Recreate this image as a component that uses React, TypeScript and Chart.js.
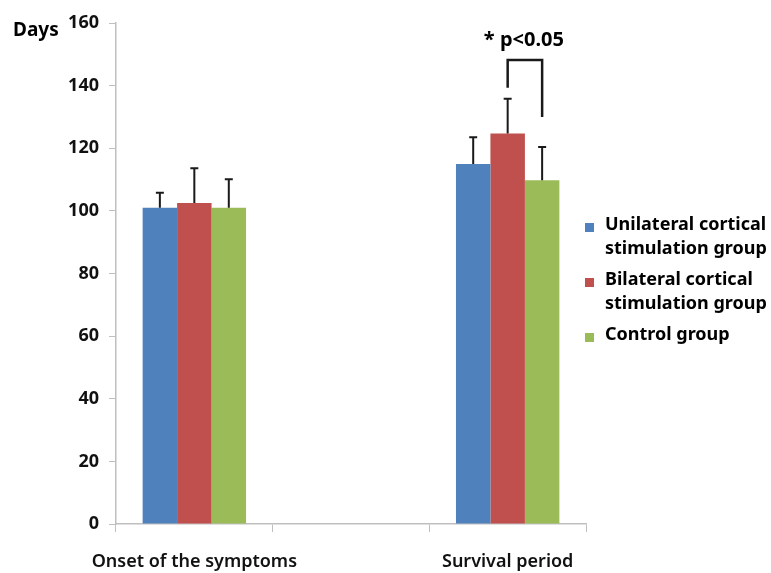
import React, { useEffect, useRef } from "react";
import { Chart, registerables } from "chart.js";

Chart.register(...registerables);

const categories = ["Onset of the symptoms", "", "Survival period"];
const seriesNames = [
  ["Unilateral cortical", "stimulation group"],
  ["Bilateral cortical", "stimulation group"],
  ["Control group"],
];
const unilateral = [101, null, 115];
const bilateral = [102.5, null, 124.7];
const control = [101, null, 109.8];
const unilateralErr = [4.8, 0, 8.5];
const bilateralErr = [11.1, 0, 11.1];
const controlErr = [9.1, 0, 10.6];
const colors = ["#4F81BD", "#C0504D", "#9BBB59"];
const yTicks = [0, 20, 40, 60, 80, 100, 120, 140, 160];
const yTitle = "Days";
const sigText = "* p<0.05";
const bracketTop = 148.2;
const bracketLeftEnd = 139.3;
const bracketRightEnd = 130;
const sigTextValue = 154.5;

const FONT = "'Noto Sans', 'DejaVu Sans', sans-serif";

export default function App() {
  const ref = useRef<HTMLCanvasElement>(null);
  useEffect(() => {
    const canvas = ref.current;
    if (!canvas) return;
    const errs = [unilateralErr, bilateralErr, controlErr];

    const extras = {
      id: "extras",
      afterDatasetsDraw(chart: any) {
        const ctx = chart.ctx;
        const y = chart.scales.y;
        ctx.save();
        // error bars (upper only)
        chart.data.datasets.forEach((ds: any, di: number) => {
          const meta = chart.getDatasetMeta(di);
          meta.data.forEach((bar: any, i: number) => {
            const v = ds.data[i];
            if (v === null || v === undefined) return;
            const e = errs[di][i];
            const top = y.getPixelForValue(v + e);
            const base = y.getPixelForValue(v);
            ctx.strokeStyle = "#1a1a1a";
            ctx.lineWidth = 2;
            ctx.beginPath();
            ctx.moveTo(bar.x, base);
            ctx.lineTo(bar.x, top);
            ctx.moveTo(bar.x - 4, top);
            ctx.lineTo(bar.x + 4, top);
            ctx.stroke();
          });
        });
        // significance bracket between bilateral and control in survival
        const idx = 2;
        const xr = chart.getDatasetMeta(1).data[idx].x;
        const xg = chart.getDatasetMeta(2).data[idx].x;
        const yt = y.getPixelForValue(bracketTop);
        ctx.strokeStyle = "#1a1a1a";
        ctx.lineWidth = 2.5;
        ctx.beginPath();
        ctx.moveTo(xr, y.getPixelForValue(bracketLeftEnd));
        ctx.lineTo(xr, yt);
        ctx.lineTo(xg, yt);
        ctx.lineTo(xg, y.getPixelForValue(bracketRightEnd));
        ctx.stroke();
        ctx.fillStyle = "#000";
        ctx.font = "bold 20px " + FONT;
        ctx.textAlign = "center";
        ctx.textBaseline = "middle";
        ctx.fillText(sigText, (xr + xg) / 2 - 1, y.getPixelForValue(sigTextValue));
        // y title
        ctx.font = "bold 19px " + FONT;
        ctx.textAlign = "left";
        ctx.fillText(yTitle, 13, y.getPixelForValue(160) + 8);
        // legend
        ctx.font = "bold 18px " + FONT;
        const lx = chart.chartArea.right;
        let cy = 225;
        seriesNames.forEach((lines, i) => {
          ctx.fillStyle = colors[i];
          ctx.fillRect(lx - 1, cy - 2, 9, 9);
          ctx.fillStyle = "#000";
          ctx.textAlign = "left";
          lines.forEach((t, j) => {
            ctx.fillText(t, lx + 19, cy + j * 24);
          });
          cy += 55;
        });
        ctx.restore();
      },
    };

    const chart = new Chart(canvas, {
      type: "bar",
      data: {
        labels: categories,
        datasets: [
          { label: seriesNames[0].join(" "), data: unilateral, backgroundColor: colors[0] },
          { label: seriesNames[1].join(" "), data: bilateral, backgroundColor: colors[1] },
          { label: seriesNames[2].join(" "), data: control, backgroundColor: colors[2] },
        ],
      },
      options: {
        responsive: false,
        animation: false,
        layout: { padding: { left: 0, right: 185, top: 23, bottom: 0 } },
        datasets: { bar: { categoryPercentage: 0.66, barPercentage: 1.0 } },
        plugins: { legend: { display: false }, tooltip: { enabled: false } },
        scales: {
          x: {
            grid: { display: true, drawOnChartArea: false, offset: true, color: "#BFBFBF", tickLength: 8 },
            border: { color: "#BFBFBF", width: 1.5 },
            ticks: { color: "#111", font: { family: FONT, size: 18, weight: "600" }, padding: 19, maxRotation: 0, autoSkip: false },
            afterFit: (s: any) => { s.height = 49; },
          },
          y: {
            min: 0,
            max: 160,
            afterBuildTicks: (s: any) => { s.ticks = yTicks.map((v) => ({ value: v })); },
            grid: { display: true, drawOnChartArea: false, color: "#BFBFBF", tickLength: 7 },
            border: { color: "#BFBFBF", width: 1.5 },
            ticks: { color: "#111", font: { family: FONT, size: 18, weight: "bold" }, padding: 10 },
            afterFit: (s: any) => { s.width = 116; },
          },
        },
      },
      plugins: [extras],
    });
    return () => chart.destroy();
  }, []);
  return (
    <div style={{ position: "fixed", left: 0, top: 0, width: 771, height: 573, background: "#fff" }}>
      <canvas ref={ref} width={771} height={573} />
    </div>
  );
}
